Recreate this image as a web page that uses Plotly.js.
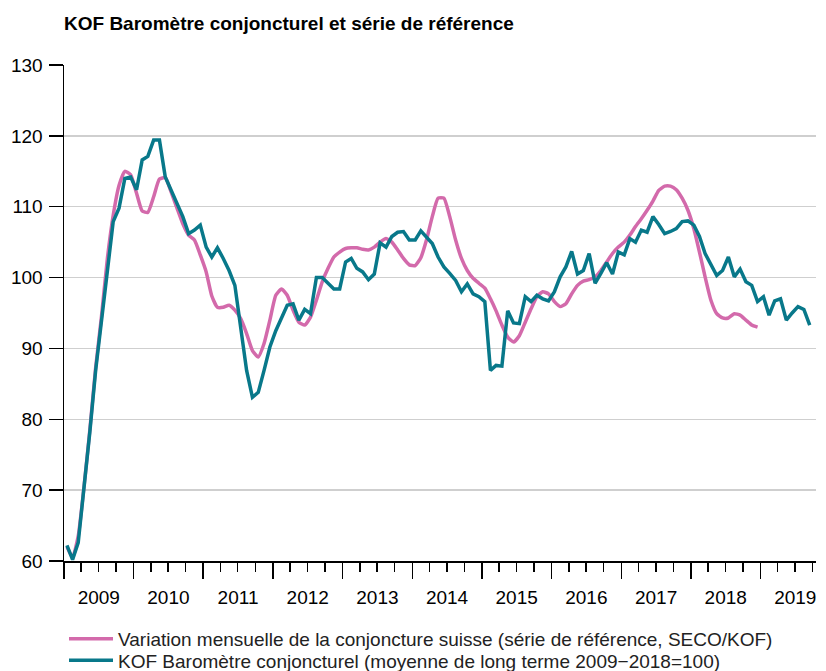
<!DOCTYPE html>
<html>
<head>
<meta charset="utf-8">
<script src="https://cdn.plot.ly/plotly-3.0.1.min.js"></script>
<style>html,body{margin:0;padding:0;background:#fff;}#chart{width:826px;height:671px;}</style>
</head>
<body>
<div id="chart"></div>
<script>
const monthsTeal = [
"2009-01","2009-02","2009-03","2009-04","2009-05","2009-06","2009-07","2009-08","2009-09","2009-10","2009-11","2009-12",
"2010-01","2010-02","2010-03","2010-04","2010-05","2010-06","2010-07","2010-08","2010-09","2010-10","2010-11","2010-12",
"2011-01","2011-02","2011-03","2011-04","2011-05","2011-06","2011-07","2011-08","2011-09","2011-10","2011-11","2011-12",
"2012-01","2012-02","2012-03","2012-04","2012-05","2012-06","2012-07","2012-08","2012-09","2012-10","2012-11","2012-12",
"2013-01","2013-02","2013-03","2013-04","2013-05","2013-06","2013-07","2013-08","2013-09","2013-10","2013-11","2013-12",
"2014-01","2014-02","2014-03","2014-04","2014-05","2014-06","2014-07","2014-08","2014-09","2014-10","2014-11","2014-12",
"2015-01","2015-02","2015-03","2015-04","2015-05","2015-06","2015-07","2015-08","2015-09","2015-10","2015-11","2015-12",
"2016-01","2016-02","2016-03","2016-04","2016-05","2016-06","2016-07","2016-08","2016-09","2016-10","2016-11","2016-12",
"2017-01","2017-02","2017-03","2017-04","2017-05","2017-06","2017-07","2017-08","2017-09","2017-10","2017-11","2017-12",
"2018-01","2018-02","2018-03","2018-04","2018-05","2018-06","2018-07","2018-08","2018-09","2018-10","2018-11","2018-12",
"2019-01","2019-02","2019-03","2019-04","2019-05","2019-06","2019-07","2019-08","2019-09"
];
const monthsRef = monthsTeal.slice(0, 120);

// Reference series (SECO/KOF), Jan 2009 - Dec 2018
const referenceSeries = [
62.0,60.5,63.5,70.5,78.5,87.3,94.5,102.7,108.8,113.0,115.0,114.5,
111.9,109.4,109.2,111.4,113.9,114.1,112.1,109.8,107.6,106.0,105.3,103.2,
100.8,97.4,95.8,95.8,96.1,95.4,94.2,92.1,89.7,88.8,90.7,94.0,
97.5,98.4,97.5,95.4,93.7,93.3,94.4,96.8,99.4,101.3,102.9,103.6,
104.1,104.2,104.2,104.0,103.9,104.3,105.0,105.5,105.0,103.9,102.7,101.8,
101.7,102.8,105.3,108.6,111.2,111.2,108.6,105.3,102.7,101.0,99.9,99.2,
98.5,97.0,95.3,93.3,91.6,90.9,91.8,93.7,95.6,97.3,98.0,97.7,
96.6,95.9,96.3,97.7,98.9,99.5,99.7,100.1,101.0,102.2,103.4,104.3,
105.0,106.0,107.2,108.3,109.5,110.8,112.3,112.9,112.9,112.4,111.2,109.5,
106.9,103.6,100.1,96.8,94.9,94.3,94.3,94.9,94.7,94.0,93.3,93.0
];

// KOF Barometer, Jan 2009 - Sep 2019
const kofBarometer = [
62.2,60.2,62.6,70.1,78.2,86.9,93.7,101.3,107.9,109.8,114.0,114.2,
112.4,116.6,117.1,119.4,119.4,114.2,112.4,110.5,108.6,106.2,106.7,107.4,
104.3,102.9,104.2,102.7,101.0,98.9,92.5,86.9,83.1,83.8,86.9,90.2,
92.5,94.2,96.1,96.3,94.0,95.5,94.9,100.0,100.0,99.2,98.4,98.4,
102.2,102.7,101.3,100.8,99.7,100.5,104.9,104.3,105.8,106.4,106.5,105.3,
105.3,106.6,105.8,104.8,102.9,101.5,100.6,99.6,98.0,99.1,97.7,97.3,
96.6,86.9,87.6,87.5,95.3,93.6,93.5,97.3,96.6,97.5,97.0,96.7,
98.0,100.1,101.5,103.7,100.5,101.0,103.4,99.2,100.6,102.1,100.5,103.6,
103.2,105.5,105.0,106.7,106.4,108.6,107.5,106.2,106.5,106.9,107.9,108.0,
107.4,105.8,103.4,101.8,100.3,101.0,102.9,100.1,101.2,99.4,98.9,96.6,
97.3,94.7,96.7,97.0,94.0,95.0,95.9,95.5,93.3
];

const yTicks = [60,70,80,90,100,110,120,130];
const nameRef = "Variation mensuelle de la conjoncture suisse (série de référence, SECO/KOF)";
const nameKof = "KOF Baromètre conjoncturel (moyenne de long terme 2009\u22122018=100)";
const titleText = "KOF Baromètre conjoncturel et série de référence";

const pink = "#d36aab";
const teal = "#08788a";

const traces = [
  {x: monthsRef, y: referenceSeries, type: "scatter", mode: "lines", name: nameRef,
   xperiod: "M1", xperiodalignment: "middle", legend: "legend",
   line: {color: pink, width: 3.5, shape: "spline", smoothing: 0.5}},
  {x: monthsTeal, y: kofBarometer, type: "scatter", mode: "lines", name: nameKof,
   xperiod: "M1", xperiodalignment: "middle", legend: "legend2",
   line: {color: teal, width: 3.5}}
];

const legendCommon = {x: 0, xanchor: "left", yanchor: "top", orientation: "v",
  font: {size: 19, color: "#222"}, bgcolor: "rgba(0,0,0,0)", itemwidth: 44};

const layout = {
  width: 826, height: 671,
  margin: {l: 64, r: 10, t: 65, b: 110, autoexpand: false},
  paper_bgcolor: "#fff", plot_bgcolor: "#fff",
  font: {family: "Liberation Sans, Arial, sans-serif", size: 19, color: "#000"},
  title: {text: "<b>" + titleText + "</b>", x: 0, xref: "paper", xanchor: "left",
          y: 1, yref: "container", yanchor: "top", pad: {t: 17},
          font: {size: 19, family: "Liberation Sans, Arial, sans-serif", color: "#000"}},
  showlegend: true,
  legend: Object.assign({}, legendCommon, {y: -0.119}),
  legend2: Object.assign({}, legendCommon, {y: -0.162}),
  xaxis: {
    type: "date",
    range: ["2009-01-01", "2019-10-19"],
    dtick: "M12", tick0: "2009-01-01",
    tickformat: "%Y", ticklabelmode: "period",
    ticks: "outside", ticklen: 16, tickwidth: 1.5, tickcolor: "#000",
    ticklabelstandoff: 3,
    minor: {dtick: "M3", tick0: "2009-01-01", ticks: "outside", ticklen: 9, tickwidth: 1.5, tickcolor: "#000", showgrid: false},
    showgrid: false, zeroline: false,
    showline: true, linecolor: "#000", linewidth: 1.5,
    tickfont: {size: 19, color: "#000"}
  },
  yaxis: {
    range: [60, 130],
    tickvals: yTicks,
    ticks: "outside", ticklen: 14, tickwidth: 1.5, tickcolor: "#000",
    showgrid: true, gridcolor: "#cfcfcf", gridwidth: 1.5,
    zeroline: false,
    showline: true, linecolor: "#000", linewidth: 1.5,
    tickfont: {size: 19, color: "#000"},
    ticklabelstandoff: 2
  }
};

Plotly.newPlot("chart", traces, layout, {displayModeBar: false, staticPlot: true});
</script>
</body>
</html>
